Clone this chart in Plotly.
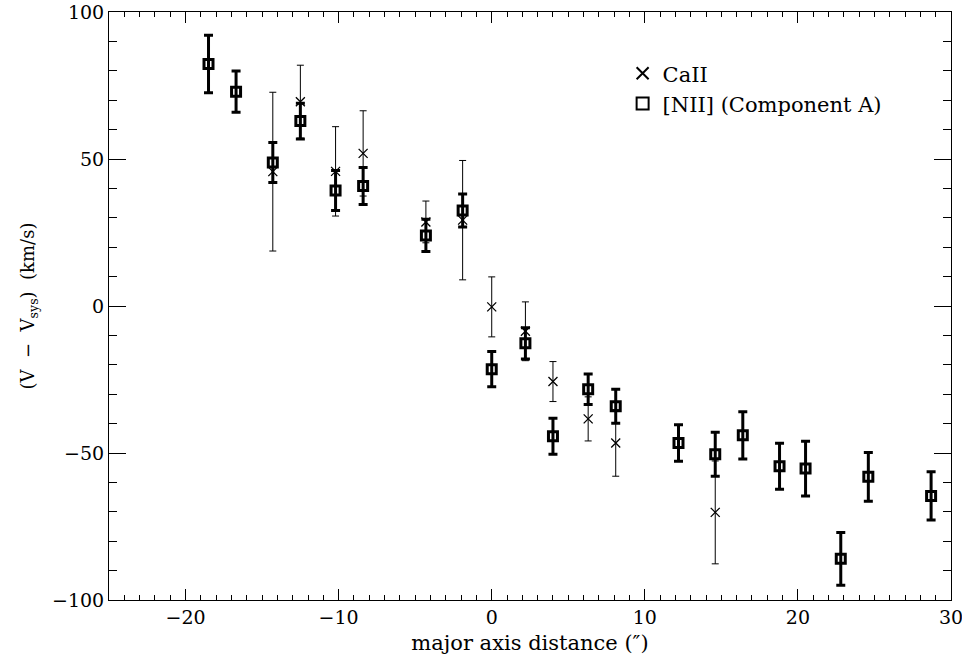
import plotly.graph_objects as go

# [NII] (Component A)
dist_nii = [-18.5, -16.7, -14.3, -12.5, -10.2, -8.4, -4.3, -1.9, 0.0, 2.2, 4.0,
            6.3, 8.1, 12.2, 14.6, 16.4, 18.8, 20.5, 22.8, 24.6, 28.7]
v_nii = [82.3, 72.9, 48.8, 62.9, 39.3, 40.8, 24.0, 32.5, -21.5, -12.7, -44.3,
         -28.3, -34.1, -46.6, -50.4, -44.0, -54.5, -55.3, -86.0, -58.1, -64.6]
err_nii = [9.8, 7.0, 6.8, 6.1, 6.8, 6.3, 5.5, 5.6, 6.0, 5.3, 6.1,
           5.2, 5.8, 6.2, 7.5, 8.0, 7.8, 9.3, 9.0, 8.3, 8.2]

# CaII
dist_ca = [-14.3, -12.5, -10.2, -8.4, -4.3, -1.9, 0.0, 2.2, 4.0, 6.3, 8.1, 14.6]
v_ca = [45.7, 69.5, 45.8, 51.9, 28.6, 29.2, -0.3, -8.6, -25.7, -38.4, -46.6, -70.2]
err_ca = [27.0, 12.4, 15.2, 14.5, 7.1, 20.3, 10.2, 10.0, 6.8, 7.5, 11.3, 17.5]

# axis ticks
x_ticks = [-20, -10, 0, 10, 20, 30]
y_ticks = [-100, -50, 0, 50, 100]

FONT = "DejaVu Serif"

fig = go.Figure()
fig.add_trace(go.Scatter(
    x=dist_ca, y=v_ca, mode="markers", name="CaII",
    marker=dict(symbol="x-thin-open", size=9, color="black",
                line=dict(width=1.3, color="black")),
    error_y=dict(type="data", array=err_ca, visible=True, color="black",
                 thickness=1, width=3.5),
))
fig.add_trace(go.Scatter(
    x=dist_nii, y=v_nii, mode="markers", name="[NII] (Component A)",
    marker=dict(symbol="square-open", size=9, color="black",
                line=dict(width=3, color="black")),
    error_y=dict(type="data", array=err_nii, visible=True, color="black",
                 thickness=3, width=4.5),
))

axis_common = dict(
    showgrid=False, zeroline=False, showline=True, linecolor="black",
    linewidth=1, mirror="ticks", ticks="inside", tickcolor="black",
    tickwidth=1, tickfont=dict(family=FONT, size=19, color="black"),
    tickmode="array", ticklabeloverflow="allow", automargin=False,
)

fig.update_xaxes(
    range=[-25, 30], tickvals=x_ticks, ticklen=11,
    minor=dict(dtick=1, tick0=0, ticklen=5, ticks="inside", tickcolor="black", tickwidth=1),
    title=dict(text="major axis distance (″)", font=dict(family=FONT, size=21, color="black"),
               standoff=8),
    **axis_common,
)
fig.update_yaxes(
    range=[-100, 100], tickvals=y_ticks, ticklen=17,
    minor=dict(dtick=10, tick0=0, ticklen=8, ticks="inside", tickcolor="black", tickwidth=1),
    title=dict(text="(V  −  V<sub>sys</sub>)  (km/s)", font=dict(family=FONT, size=18, color="black"),
               standoff=12),
    **axis_common,
)

fig.update_layout(
    width=962, height=668,
    margin=dict(l=109, r=11, t=12, b=68),
    paper_bgcolor="white", plot_bgcolor="white",
    showlegend=True,
    legend=dict(x=0.61, y=0.93, xanchor="left", yanchor="top",
                bgcolor="rgba(0,0,0,0)", font=dict(family=FONT, size=21, color="black"),
                itemsizing="constant", tracegroupgap=0),
)

fig.write_html("out.html")
